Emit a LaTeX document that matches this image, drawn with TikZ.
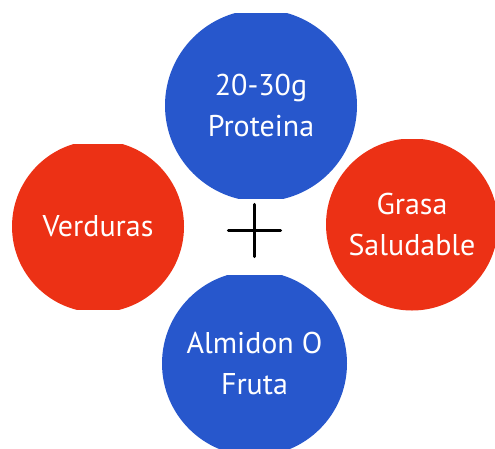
\documentclass[tikz,border=0pt]{standalone}
\usepackage{fontspec}
\setmainfont{PT Sans}
\usetikzlibrary{positioning}
\definecolor{MealBlue}{HTML}{2757CC}
\definecolor{MealRed}{HTML}{EC3115}

\begin{document}
\begin{tikzpicture}[
  x=1pt, y=-1pt,
  food/.style={
    circle,
    draw=none,
    inner sep=0pt,
    align=center,
    text=white,
    font=\fontsize{30}{41}\selectfont
  },
  bluefood/.style={food, fill=MealBlue, minimum size=192pt},
  redfood/.style={food, fill=MealRed, minimum size=172pt},
  bigblue/.style={food, fill=MealBlue, minimum size=185pt},
  plusline/.style={line width=3.2pt, line cap=round, color=black}
]
\useasboundingbox (0,0) rectangle (495,448);

% Circles, each cut flat at top and bottom
\begin{scope}
  \clip (0,13) rectangle (495,198);
  \node[bluefood] (protein) at (261,105.5) {20-30g\\Proteina};
\end{scope}
\begin{scope}
  \clip (0,144) rectangle (495,309);
  \node[redfood] (veggies) at (98,226.5) {Verduras};
\end{scope}
\begin{scope}
  \clip (0,139) rectangle (495,310);
  \node[redfood] (fat) at (412,224.5) {Grasa\\Saludable};
\end{scope}
\begin{scope}
  \clip (0,275) rectangle (495,448);
  \node[bigblue] (starch) at (254.5,363.5) {Almidon O\\Fruta};
\end{scope}

% Plus sign in the middle
\coordinate (plus) at (254.5,230.5);
\draw[plusline] ([xshift=-26pt]plus) -- ([xshift=26pt]plus);
\draw[plusline] ([yshift=-26pt]plus) -- ([yshift=26pt]plus);

\end{tikzpicture}
\end{document}
